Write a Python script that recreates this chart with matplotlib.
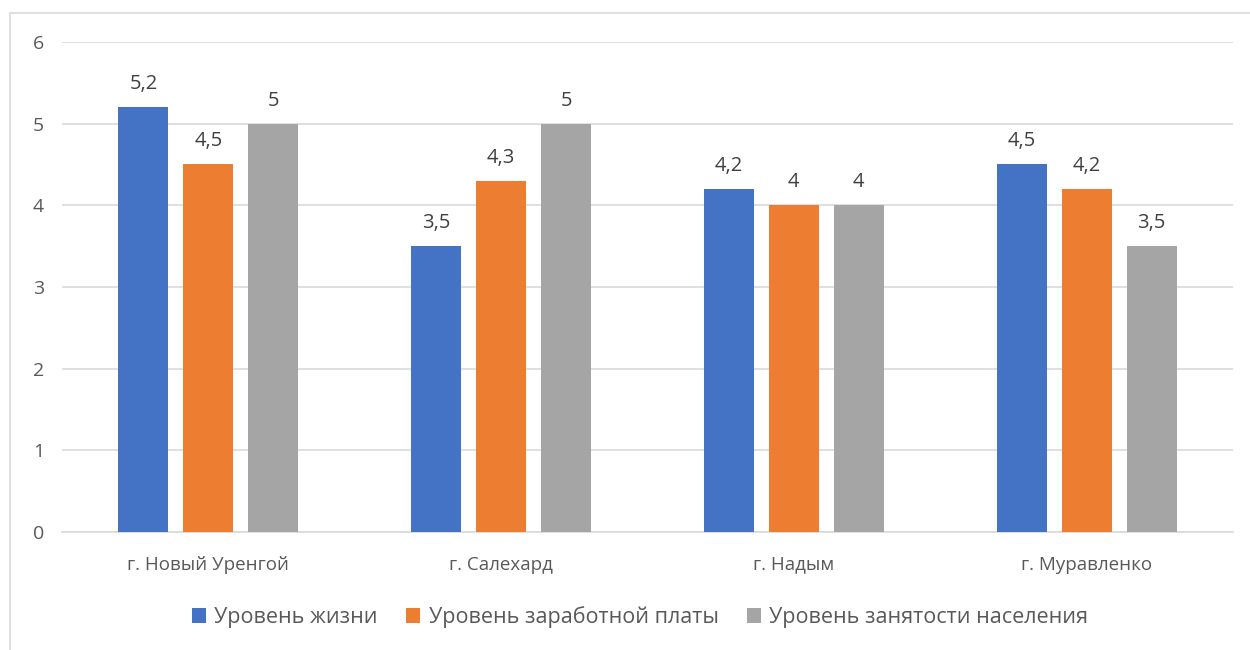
import numpy as np
import matplotlib
matplotlib.use("Agg")
import matplotlib.pyplot as plt
from matplotlib.patches import Rectangle

plt.rcParams['font.family'] = ['Open Sans', 'DejaVu Sans']

cities = ['г. Новый Уренгой', 'г. Салехард', 'г. Надым', 'г. Муравленко']
series_names = ['Уровень жизни', 'Уровень заработной платы', 'Уровень занятости населения']
life = [5.2, 3.5, 4.2, 4.5]
salary = [4.5, 4.3, 4.0, 4.2]
employment = [5.0, 5.0, 4.0, 3.5]
colors = ['#4472c4', '#ed7d31', '#a5a5a5']

fig = plt.figure(figsize=(12.5, 6.5), dpi=100)
ax = fig.add_axes([0.0496, 0.1815, 0.9368, 0.7539])

# chart border (only left and top visible in the picture)
fig.add_artist(Rectangle((10/1250, -0.1), 1.2, 0.1 + (1 - 13/650), transform=fig.transFigure,
                         fill=False, edgecolor='#d9d9d9', lw=1.2))

x = np.arange(len(cities))
w = 0.171
step = 0.222
txt = '#404040'
for i, (vals, name) in enumerate(zip([life, salary, employment], series_names)):
    pos = x + (i - 1) * step
    bars = ax.bar(pos, vals, w, color=colors[i], label=name, zorder=3)
    for b, v in zip(bars, vals):
        lab = ('%g' % v).replace('.', ',')
        ax.text(b.get_x() + b.get_width() / 2, v + 0.16, lab, ha='center', va='bottom',
                fontsize=14.5, color=txt)

ax.set_xlim(-0.5, 3.5)
ax.set_ylim(0, 6)
ax.set_yticks(range(7))
ax.yaxis.grid(True, color='#d9d9d9', lw=1.2, zorder=0)
ax.set_xticks(x)
ax.set_xticklabels(cities)
for s in ['top', 'right', 'left']:
    ax.spines[s].set_visible(False)
ax.spines['bottom'].set_color('#d9d9d9')
ax.spines['bottom'].set_linewidth(1.2)
ax.tick_params(axis='both', length=0, labelsize=14, labelcolor='#595959')
ax.tick_params(axis='x', labelsize=13.5, pad=17)
ax.tick_params(axis='y', pad=13)

leg = fig.legend(loc='center', bbox_to_anchor=(0.512, 1 - 617/650), ncol=3, frameon=False,
                 fontsize=15.5, handlelength=0.65, handleheight=0.65, handletextpad=0.4,
                 columnspacing=1.3)
for t in leg.get_texts():
    t.set_color('#595959')

fig.savefig('out.png', dpi=100)
